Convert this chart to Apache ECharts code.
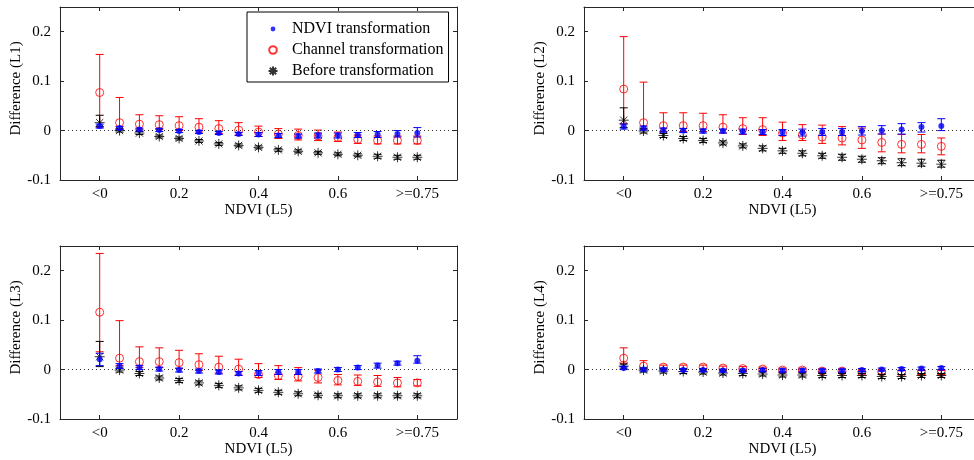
<!DOCTYPE html>
<html>
<head>
<meta charset="utf-8">
<title>Difference by NDVI (L5)</title>
<script src="https://cdn.jsdelivr.net/npm/echarts@6/dist/echarts.min.js"></script>
<style>
  html, body { margin: 0; padding: 0; background: #ffffff; }
  #chart { width: 974px; height: 460px; }
</style>
</head>
<body>
<div id="chart"></div>
<script>
// NDVI (L5) bins: "<0", 0.05 ... 0.7, ">=0.75"
const ndviBins = [0, 0.05, 0.1, 0.15, 0.2, 0.25, 0.3, 0.35, 0.4, 0.45, 0.5, 0.55, 0.6, 0.65, 0.7, 0.75, 0.8];
const xTickValues = [0, 0.2, 0.4, 0.6, 0.8];
const xTickLabels = ['<0', '0.2', '0.4', '0.6', '>=0.75'];
const yTickValues = [-0.1, 0, 0.1, 0.2];
const yTickLabels = ['-0.1', '0', '0.1', '0.2'];
const bandNames = ['L1', 'L2', 'L3', 'L4'];
const seriesNames = ['NDVI transformation', 'Channel transformation', 'Before transformation'];

// Band L1: mean difference, lower and upper error
const l1Ndvi      = [0.009, 0.005, 0.002, 0.001, -0.001, -0.003, -0.005, -0.007, -0.008, -0.010, -0.011, -0.010, -0.010, -0.009, -0.008, -0.007, -0.005];
const l1NdviLo    = [0.004, 0.003, 0.003, 0.003, 0.003, 0.003, 0.003, 0.003, 0.004, 0.004, 0.004, 0.005, 0.005, 0.005, 0.006, 0.006, 0.008];
const l1NdviHi    = [0.004, 0.003, 0.003, 0.003, 0.003, 0.003, 0.003, 0.003, 0.004, 0.004, 0.004, 0.005, 0.005, 0.005, 0.006, 0.007, 0.011];
const l1Channel   = [0.077, 0.016, 0.013, 0.012, 0.010, 0.007, 0.004, 0.001, -0.003, -0.007, -0.010, -0.011, -0.014, -0.018, -0.020, -0.020, -0.020];
const l1ChannelLo = [0.070, 0.012, 0.010, 0.010, 0.010, 0.010, 0.010, 0.010, 0.009, 0.009, 0.009, 0.009, 0.008, 0.008, 0.007, 0.007, 0.007];
const l1ChannelHi = [0.077, 0.051, 0.019, 0.018, 0.018, 0.017, 0.016, 0.015, 0.012, 0.011, 0.013, 0.012, 0.011, 0.009, 0.009, 0.009, 0.009];
const l1Before    = [0.016, 0.000, -0.005, -0.012, -0.016, -0.021, -0.027, -0.030, -0.034, -0.039, -0.042, -0.045, -0.048, -0.050, -0.052, -0.054, -0.054];
const l1BeforeLo  = [0.008, 0.003, 0.003, 0.003, 0.003, 0.003, 0.003, 0.003, 0.003, 0.003, 0.003, 0.003, 0.003, 0.003, 0.004, 0.004, 0.004];
const l1BeforeHi  = [0.015, 0.003, 0.003, 0.003, 0.003, 0.003, 0.003, 0.003, 0.003, 0.003, 0.003, 0.003, 0.003, 0.003, 0.004, 0.004, 0.004];

// Band L2
const l2Ndvi      = [0.008, 0.005, 0.001, 0.000, -0.001, -0.001, -0.002, -0.003, -0.004, -0.004, -0.003, -0.003, -0.001, 0.000, 0.002, 0.007, 0.009];
const l2NdviLo    = [0.005, 0.004, 0.004, 0.004, 0.004, 0.004, 0.005, 0.005, 0.006, 0.007, 0.007, 0.007, 0.008, 0.007, 0.009, 0.010, 0.009];
const l2NdviHi    = [0.005, 0.004, 0.004, 0.004, 0.004, 0.004, 0.005, 0.005, 0.006, 0.007, 0.007, 0.007, 0.009, 0.010, 0.012, 0.009, 0.015];
const l2Channel   = [0.084, 0.016, 0.010, 0.010, 0.010, 0.007, 0.004, 0.002, -0.005, -0.009, -0.013, -0.015, -0.019, -0.024, -0.028, -0.028, -0.032];
const l2ChannelLo = [0.070, 0.012, 0.012, 0.012, 0.012, 0.012, 0.012, 0.012, 0.015, 0.011, 0.013, 0.014, 0.017, 0.019, 0.017, 0.017, 0.017];
const l2ChannelHi = [0.106, 0.082, 0.026, 0.026, 0.025, 0.025, 0.022, 0.024, 0.022, 0.021, 0.024, 0.023, 0.024, 0.017, 0.020, 0.020, 0.017];
const l2Before    = [0.021, -0.001, -0.010, -0.016, -0.020, -0.025, -0.031, -0.036, -0.041, -0.046, -0.051, -0.054, -0.058, -0.061, -0.065, -0.066, -0.068];
const l2BeforeLo  = [0.015, 0.004, 0.004, 0.004, 0.004, 0.004, 0.004, 0.005, 0.005, 0.005, 0.005, 0.006, 0.006, 0.006, 0.006, 0.006, 0.006];
const l2BeforeHi  = [0.025, 0.004, 0.004, 0.004, 0.004, 0.004, 0.004, 0.005, 0.005, 0.005, 0.005, 0.006, 0.006, 0.006, 0.008, 0.008, 0.008];

// Band L3
const l3Ndvi      = [0.021, 0.007, 0.004, 0.001, -0.001, -0.003, -0.005, -0.008, -0.007, -0.005, -0.005, -0.003, 0.000, 0.004, 0.008, 0.013, 0.018];
const l3NdviLo    = [0.013, 0.005, 0.004, 0.004, 0.004, 0.004, 0.004, 0.004, 0.005, 0.005, 0.005, 0.004, 0.004, 0.004, 0.005, 0.004, 0.005];
const l3NdviHi    = [0.012, 0.005, 0.004, 0.004, 0.004, 0.004, 0.004, 0.004, 0.005, 0.005, 0.005, 0.004, 0.004, 0.004, 0.005, 0.004, 0.010];
const l3Channel   = [0.116, 0.023, 0.016, 0.016, 0.014, 0.010, 0.005, 0.001, -0.010, -0.012, -0.014, -0.016, -0.022, -0.024, -0.025, -0.027, -0.027];
const l3ChannelLo = [0.080, 0.015, 0.012, 0.012, 0.012, 0.012, 0.012, 0.012, 0.006, 0.008, 0.009, 0.011, 0.009, 0.008, 0.009, 0.008, 0.006];
const l3ChannelHi = [0.119, 0.076, 0.030, 0.028, 0.025, 0.022, 0.022, 0.020, 0.022, 0.020, 0.018, 0.015, 0.012, 0.013, 0.013, 0.011, 0.007];
const l3Before    = [0.026, -0.001, -0.008, -0.017, -0.022, -0.027, -0.032, -0.037, -0.042, -0.046, -0.049, -0.052, -0.053, -0.053, -0.053, -0.053, -0.053];
const l3BeforeLo  = [0.020, 0.004, 0.004, 0.004, 0.004, 0.004, 0.004, 0.004, 0.004, 0.004, 0.004, 0.004, 0.004, 0.004, 0.004, 0.004, 0.004];
const l3BeforeHi  = [0.031, 0.004, 0.004, 0.004, 0.004, 0.004, 0.004, 0.004, 0.004, 0.004, 0.004, 0.004, 0.004, 0.004, 0.004, 0.004, 0.004];

// Band L4
const l4Ndvi      = [0.003, 0.000, 0.000, -0.001, -0.001, -0.002, -0.002, -0.001, -0.002, -0.002, -0.002, -0.002, -0.001, 0.000, 0.001, 0.002, 0.003];
const l4NdviLo    = [0.003, 0.003, 0.003, 0.003, 0.003, 0.003, 0.003, 0.003, 0.003, 0.003, 0.003, 0.003, 0.003, 0.003, 0.003, 0.003, 0.003];
const l4NdviHi    = [0.003, 0.003, 0.003, 0.003, 0.003, 0.003, 0.003, 0.003, 0.003, 0.003, 0.003, 0.003, 0.003, 0.003, 0.003, 0.003, 0.003];
const l4Channel   = [0.023, 0.007, 0.005, 0.005, 0.005, 0.003, 0.002, 0.001, -0.001, -0.001, -0.003, -0.003, -0.005, -0.005, -0.006, -0.006, -0.006];
const l4ChannelLo = [0.010, 0.006, 0.004, 0.004, 0.004, 0.004, 0.004, 0.004, 0.004, 0.004, 0.004, 0.004, 0.004, 0.004, 0.004, 0.004, 0.004];
const l4ChannelHi = [0.021, 0.011, 0.004, 0.004, 0.004, 0.004, 0.004, 0.004, 0.004, 0.004, 0.004, 0.004, 0.004, 0.004, 0.004, 0.004, 0.004];
const l4Before    = [0.007, -0.001, -0.003, -0.004, -0.005, -0.007, -0.008, -0.009, -0.011, -0.011, -0.012, -0.012, -0.012, -0.014, -0.014, -0.012, -0.012];
const l4BeforeLo  = [0.004, 0.004, 0.004, 0.004, 0.004, 0.004, 0.004, 0.004, 0.004, 0.004, 0.004, 0.004, 0.004, 0.004, 0.004, 0.004, 0.004];
const l4BeforeHi  = [0.004, 0.004, 0.004, 0.004, 0.004, 0.004, 0.004, 0.004, 0.004, 0.004, 0.004, 0.004, 0.004, 0.004, 0.004, 0.004, 0.004];

const panels = [
  { ndvi: [l1Ndvi, l1NdviLo, l1NdviHi], channel: [l1Channel, l1ChannelLo, l1ChannelHi], before: [l1Before, l1BeforeLo, l1BeforeHi] },
  { ndvi: [l2Ndvi, l2NdviLo, l2NdviHi], channel: [l2Channel, l2ChannelLo, l2ChannelHi], before: [l2Before, l2BeforeLo, l2BeforeHi] },
  { ndvi: [l3Ndvi, l3NdviLo, l3NdviHi], channel: [l3Channel, l3ChannelLo, l3ChannelHi], before: [l3Before, l3BeforeLo, l3BeforeHi] },
  { ndvi: [l4Ndvi, l4NdviLo, l4NdviHi], channel: [l4Channel, l4ChannelLo, l4ChannelHi], before: [l4Before, l4BeforeLo, l4BeforeHi] }
];

const FONT = "'Liberation Serif', 'Times New Roman', 'DejaVu Serif', serif";
const AXIS_COLOR = '#262626';
const BLUE = '#0000ff';
const RED = '#ff0000';
const BLACK = '#000000';

// Marker shapes; the leading moves pad the bounding box so legend icons keep their own size
const ASTERISK = 'path://M0,-5L0,5M-5,0L5,0M-3.6,-3.6L3.6,3.6M-3.6,3.6L3.6,-3.6';
const STAR_ICON = 'path://M-5,-5M5,5M0,-4.5L0,4.5M-4.5,0L4.5,0M-3.2,-3.2L3.2,3.2M-3.2,3.2L3.2,-3.2';
const DOT_ICON = 'path://M-5,-5M5,5M2.4,0A2.4,2.4,0,1,1,-2.4,0A2.4,2.4,0,1,1,2.4,0Z';
const RING_ICON = 'path://M-5,-5M5,5M3.8,0A3.8,3.8,0,1,1,-3.8,0A3.8,3.8,0,1,1,3.8,0Z';

const gridBoxes = [
  { left: 60,  top: 7,   width: 397, height: 173 },
  { left: 584, top: 7,   width: 397, height: 173 },
  { left: 60,  top: 246, width: 397, height: 173 },
  { left: 584, top: 246, width: 397, height: 173 }
];

function pickLabel(values, labels) {
  return function (v) {
    for (let i = 0; i < values.length; i++) {
      if (Math.abs(v - values[i]) < 1e-9) return labels[i];
    }
    return '';
  };
}

const tickStyle = { show: true, inside: true, length: 4, lineStyle: { color: AXIS_COLOR, width: 1 } };
const lineStyle = { show: true, onZero: false, lineStyle: { color: AXIS_COLOR, width: 1 } };
const textStyle = { fontFamily: FONT, fontSize: 15, color: '#000' };

const grid = [], xAxis = [], yAxis = [], series = [];

gridBoxes.forEach(function (box, g) {
  grid.push(Object.assign({ containLabel: false, outerBoundsMode: 'none' }, box));

  xAxis.push({
    gridIndex: g, type: 'value', position: 'bottom', min: -0.1, max: 0.9,
    name: 'NDVI (L5)', nameLocation: 'middle', nameGap: 22, nameTextStyle: textStyle,
    axisLine: lineStyle,
    axisTick: Object.assign({ customValues: xTickValues }, tickStyle),
    axisLabel: Object.assign({ customValues: xTickValues, margin: 7, formatter: pickLabel(xTickValues, xTickLabels) }, textStyle),
    splitLine: { show: false }
  });
  xAxis.push({
    gridIndex: g, type: 'value', position: 'top', min: -0.1, max: 0.9,
    axisLine: lineStyle,
    axisTick: Object.assign({ customValues: xTickValues }, tickStyle),
    axisLabel: { show: false },
    splitLine: { show: false }
  });
  yAxis.push({
    gridIndex: g, type: 'value', position: 'left', min: -0.1, max: 0.25,
    name: 'Difference (' + bandNames[g] + ')', nameLocation: 'middle', nameGap: 32,
    nameTextStyle: Object.assign({ padding: [0, 0, 0, 10] }, textStyle),
    axisLine: lineStyle,
    axisTick: Object.assign({ customValues: yTickValues }, tickStyle),
    axisLabel: Object.assign({ customValues: yTickValues, margin: 9, formatter: pickLabel(yTickValues, yTickLabels) }, textStyle),
    splitLine: { show: false }
  });
  yAxis.push({
    gridIndex: g, type: 'value', position: 'right', min: -0.1, max: 0.25,
    axisLine: lineStyle,
    axisTick: Object.assign({ customValues: yTickValues }, tickStyle),
    axisLabel: { show: false },
    splitLine: { show: false }
  });
});

// Vertical error bar with end caps, placed through the axis scales
function errorBar(color) {
  return function (params, api) {
    const x = api.value(0), y = api.value(1);
    const hi = api.coord([x, y + api.value(3)]);
    const lo = api.coord([x, y - api.value(2)]);
    const w = 4;
    const st = { stroke: color, lineWidth: 1, fill: null };
    return {
      type: 'group',
      children: [
        { type: 'line', shape: { x1: hi[0], y1: hi[1], x2: lo[0], y2: lo[1] }, style: st },
        { type: 'line', shape: { x1: hi[0] - w, y1: hi[1], x2: hi[0] + w, y2: hi[1] }, style: st },
        { type: 'line', shape: { x1: lo[0] - w, y1: lo[1], x2: lo[0] + w, y2: lo[1] }, style: st }
      ]
    };
  };
}

function addGroup(g, name, values, color, marker, z, withZeroLine) {
  const mean = values[0], lo = values[1], hi = values[2];
  const axes = { xAxisIndex: g * 2, yAxisIndex: g * 2 };
  series.push(Object.assign({
    name: name,
    type: 'scatter',
    z: z + 1,
    data: ndviBins.map(function (x, i) { return [x, mean[i]]; }),
    symbol: marker.symbol,
    symbolSize: marker.size,
    itemStyle: marker.itemStyle,
    emphasis: { disabled: true },
    animation: false
  }, axes));
  const bars = Object.assign({
    name: name + ' (error)',
    type: 'custom',
    z: z,
    data: ndviBins.map(function (x, i) { return [x, mean[i], lo[i], hi[i]]; }),
    encode: { x: 0, y: 1 },
    renderItem: errorBar(color),
    silent: true,
    animation: false
  }, axes);
  if (withZeroLine) {
    bars.markLine = {
      silent: true, symbol: 'none', animation: false,
      label: { show: false },
      lineStyle: { type: [1, 3], color: '#333', width: 1 },
      emphasis: { disabled: true },
      data: [{ yAxis: 0 }]
    };
  }
  series.push(bars);
}

const markers = {
  ndvi:    { symbol: 'circle', size: 6, itemStyle: { color: BLUE } },
  channel: { symbol: 'circle', size: 8, itemStyle: { color: 'transparent', borderColor: RED, borderWidth: 1 } },
  before:  { symbol: ASTERISK, size: 10, itemStyle: { color: 'transparent', borderColor: BLACK, borderWidth: 1 } }
};

panels.forEach(function (p, g) {
  addGroup(g, seriesNames[0], p.ndvi, BLUE, markers.ndvi, 6, false);
  addGroup(g, seriesNames[1], p.channel, RED, markers.channel, 2, true);
  addGroup(g, seriesNames[2], p.before, BLACK, markers.before, 4, false);
});

const chart = echarts.init(document.getElementById('chart'), null, { renderer: 'canvas' });
chart.setOption({
  backgroundColor: '#ffffff',
  animation: false,
  textStyle: { fontFamily: FONT },
  grid: grid,
  xAxis: xAxis,
  yAxis: yAxis,
  legend: {
    data: [
      { name: seriesNames[0], icon: DOT_ICON },
      { name: seriesNames[1], icon: RING_ICON },
      { name: seriesNames[2], icon: STAR_ICON }
    ],
    orient: 'vertical',
    left: 247, top: 12,
    itemWidth: 28, itemHeight: 10, itemGap: 5,
    padding: [9, 5, 3, 20],
    borderColor: '#000', borderWidth: 1, borderRadius: 0,
    backgroundColor: '#ffffff',
    selectedMode: false,
    textStyle: { fontFamily: FONT, fontSize: 16, color: '#000' },
    z: 10
  },
  series: series
});
</script>
</body>
</html>
